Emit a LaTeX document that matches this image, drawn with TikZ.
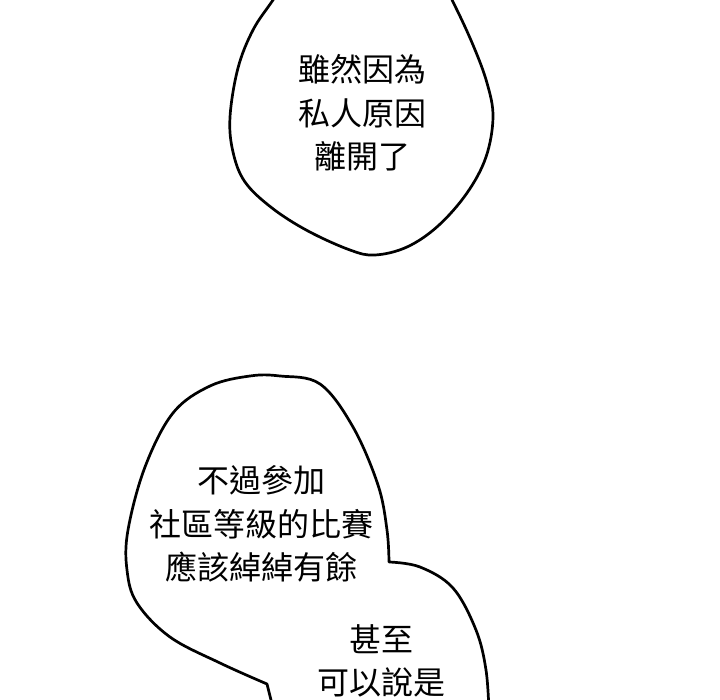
\documentclass[tikz,border=0pt]{standalone}
\usepackage{fontspec}
\newfontfamily\cjk{Noto Sans CJK TC}
\usepackage{tikz}
\usetikzlibrary{positioning,calc}

\begin{document}
\begin{tikzpicture}[x=1pt, y=-1pt]
    \useasboundingbox (0,0) rectangle (720,700);
    \clip (0,0) rectangle (720,700);
    \tikzset{bubble/.style={draw, line width=2.7pt, line join=round},
             speech/.style={align=center, font=\cjk\fontsize{32}{43.5}\selectfont}}
    
    % Top bubble
    \draw[bubble] plot[smooth cycle, tension=0.6] coordinates {(300,-40) (273,0) (253,30) (238,68) (230,117) (233,152) (245,182) (272,208) (308,231) (350,250) (375,255) (407,247) (438,226) (467,193) (486,157) (493,117) (487,83) (473,45) (453,2) (430,-40)};
    \node[speech] (top) at (362,113) {雖然因為\\私人原因\\離開了};
    
    % Bottom bubble
    \draw[bubble] (274,712) -- (267,684) -- plot[smooth, tension=0.6] coordinates {(267,684) (220,663) (170,637) (137,603) (127,570) (128,530) (145,467) (173,413) (210,386) (250,376) (280,376) (320,384) (353,427) (378,485) (387,530) (389,562)}
        -- plot[smooth, tension=0.6] coordinates {(389,562) (420,567) (453,588) (476,630) (486,670) (489,712)};
    \node[speech] (left) at (261,524) {不過參加\\社區等級的比賽\\應該綽綽有餘};
    \node[speech] (right) at (381,661) {甚至\\可以說是};
\end{tikzpicture}
\end{document}
